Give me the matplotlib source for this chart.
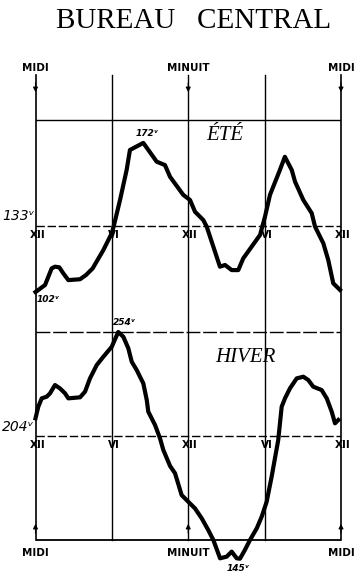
import matplotlib.pyplot as plt

# Heures comptées depuis midi (0 = midi, 12 = minuit, 24 = midi)
ete_h = [0, 0.75, 1.27, 1.53, 1.87, 2.18, 2.58, 3.5, 3.97, 4.49, 5.33, 5.99, 6.17,
         6.64, 7.16, 7.42, 8.47, 9.52, 10.17, 10.57, 11.61, 12.14, 12.53, 13.18,
         13.45, 13.97, 14.49, 14.89, 15.41, 15.93, 16.32, 16.98, 17.64, 18.03,
         18.42, 19.2, 19.59, 20.13, 20.39, 21.04, 21.7, 21.96, 22.61, 23.0, 23.39, 23.92]
ete_v = [102, 105.3, 113.1, 113.9, 113.6, 110.8, 107.6, 108, 110, 113.1, 121.7, 129.6,
         133.5, 145.2, 159.3, 168.7, 172, 163.2, 161.6, 156.1, 147.6, 145.2, 139.7,
         135.8, 132.7, 123.3, 113.9, 114.7, 112.3, 112.3, 117.8, 123.3, 128.8, 137.4,
         147.6, 159.3, 165.5, 159.3, 153.8, 145.2, 139, 132.7, 124.9, 117, 106.1, 103]

hiver_h = [0, 0.22, 0.49, 0.88, 1.14, 1.53, 1.92, 2.32, 2.58, 3.5, 3.89, 4.28, 4.81,
           5.33, 5.99, 6.5, 6.9, 7.29, 7.56, 7.95, 8.47, 8.74, 8.86, 9.39, 9.78, 10.04,
           10.57, 10.96, 11.48, 12.0, 12.53, 13.06, 13.57, 13.97, 14.5, 15.02, 15.41,
           15.81, 16.06, 16.45, 16.85, 17.38, 17.77, 18.16, 18.55, 19.07, 19.34, 19.6,
           19.99, 20.52, 21.04, 21.43, 21.82, 22.48, 22.88, 23.27, 23.53, 23.79]
hiver_v = [212.5, 218.1, 222.1, 222.9, 224.5, 228.5, 226.9, 224.5, 222.1, 222.6, 225.3,
           231.7, 238.1, 242.1, 246.9, 254, 251.7, 246.2, 239.7, 235.7, 229.3, 221.3,
           215.7, 209.3, 202.9, 197.3, 189.6, 186.1, 175.6, 172.4, 169.2, 164.4, 158.8,
           154, 145.2, 146, 148.4, 145.2, 145, 149.2, 154, 159.6, 165.2, 172.4, 184.4,
           202.1, 218.1, 222.1, 226.9, 231.7, 232.5, 230.9, 227.7, 226.1, 222.1, 215.7,
           210.1, 211.7]

ete_ref = 133
hiver_ref = 204
heures_traits = [0, 6, 12, 18, 24]
chiffres = ['XII', 'VI', 'XII', 'VI', 'XII']

W, H = 356, 573
fig = plt.figure(figsize=(W / 100, H / 100), dpi=100)
fig.patch.set_facecolor('white')

x0, x1 = 35.5, 341.0
rect = [x0 / W, 0, (x1 - x0) / W, 1]

# deux axes superposés, chacun avec son échelle en volts
ax_e = fig.add_axes(rect)
ax_h = fig.add_axes(rect)
for ax in (ax_e, ax_h):
    ax.set_xlim(0, 24)
    ax.patch.set_alpha(0)
    ax.axis('off')

k_e, k_h = 2.13, 2.08   # px par volt
ax_e.set_ylim(ete_ref - (H - 226) / k_e, ete_ref + 226 / k_e)
ax_h.set_ylim(hiver_ref - (H - 436) / k_h, hiver_ref + 436 / k_h)

def hv(px):
    # position en pixels (depuis le haut) -> volts sur l'échelle d'hiver
    return hiver_ref + (436 - px) / k_h

top_px, bot_px = 75, 540
for h in heures_traits:
    ax_h.plot([h, h], [hv(bot_px), hv(top_px)],
              color='black', lw=1.2 if h in (0, 24) else 1.0, clip_on=False)

ax_e.plot([0, 24], [183, 183], color='black', lw=1.0)
ax_e.plot([0, 24], [133, 133], color='black', lw=1.0, ls=(0, (6, 2)))
ax_h.plot([0, 24], [254, 254], color='black', lw=1.0, ls=(0, (10, 2)))
ax_h.plot([0, 24], [204, 204], color='black', lw=1.0, ls=(0, (6, 2)))
ax_h.plot([0, 24], [154, 154], color='black', lw=1.3)

# flèches sur les traits midi/minuit
for h in (0, 12, 24):
    ax_h.annotate('', xy=(h, hv(95)), xytext=(h, hv(80)),
                  arrowprops=dict(arrowstyle='-|>', color='black', lw=0.8, mutation_scale=7))
    ax_h.annotate('', xy=(h, hv(521)), xytext=(h, hv(536)),
                  arrowprops=dict(arrowstyle='-|>', color='black', lw=0.8, mutation_scale=7))

ax_e.plot(ete_h, ete_v, color='black', lw=3.0, solid_joinstyle='round', clip_on=False)
ax_h.plot(hiver_h, hiver_v, color='black', lw=3.0, solid_joinstyle='round', clip_on=False)

lab = dict(family='DejaVu Sans Condensed', fontweight='bold', fontsize=7.5, ha='center')
for h, t in zip([0, 12, 24], ['MIDI', 'MINUIT', 'MIDI']):
    ax_h.text(h, hv(71), t, va='baseline', **lab)
    ax_h.text(h, hv(556), t, va='baseline', **lab)

num = dict(family='DejaVu Sans Condensed', fontweight='bold', fontsize=7.5, ha='center', va='top')
for h, t in zip(heures_traits, chiffres):
    ax_e.text(h + 0.15, ete_ref - 2, t, **num)
    ax_h.text(h + 0.15, hiver_ref - 2, t, **num)

val = dict(family='DejaVu Sans Condensed', style='italic', fontsize=10)
ax_e.text(-0.1, ete_ref + 1.2, '133ᵛ', ha='right', va='bottom', **val)
ax_h.text(-0.1, hiver_ref + 1.2, '204ᵛ', ha='right', va='bottom', **val)

pt = dict(family='DejaVu Sans', style='italic', fontweight='bold', fontsize=6.5)
ax_e.text(8.8, 172 + 2.5, '172ᵛ', ha='center', va='bottom', **pt)
ax_e.text(0.1, 102 - 1.5, '102ᵛ', ha='left', va='top', **pt)
ax_h.text(7.0, 254 + 2.5, '254ᵛ', ha='center', va='bottom', **pt)
ax_h.text(15.9, 145 - 2.5, '145ᵛ', ha='center', va='top', **pt)

saison = dict(family='Liberation Serif', style='italic', fontsize=15, ha='center', va='center')
ax_e.text(14.9, 133 + (226 - 135) / k_e, 'ÉTÉ', **saison)
ax_h.text(16.5, hv(357), 'HIVER', **saison)

fig.text(0.543, 1 - 21 / H, 'BUREAU   CENTRAL', ha='center', va='center',
         family='Liberation Serif', fontsize=21)

fig.savefig('out.png', dpi=100)
